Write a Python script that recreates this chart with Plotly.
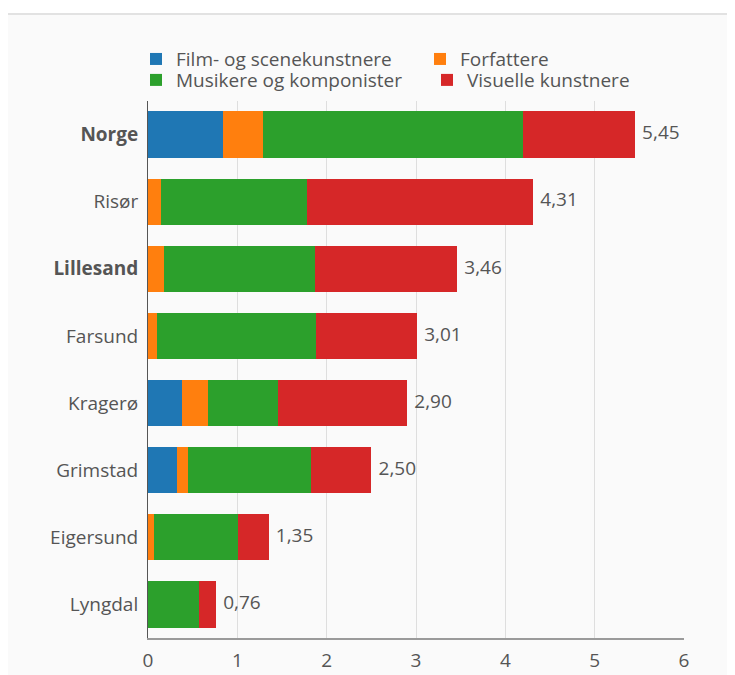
import plotly.graph_objects as go

categories = ["Norge", "Risør", "Lillesand", "Farsund", "Kragerø", "Grimstad", "Eigersund", "Lyngdal"]
film = [0.84, 0.00, 0.00, 0.00, 0.38, 0.33, 0.00, 0.00]
forfattere = [0.45, 0.15, 0.18, 0.10, 0.29, 0.12, 0.07, 0.00]
musikere = [2.91, 1.63, 1.69, 1.78, 0.78, 1.38, 0.94, 0.57]
visuelle = [1.25, 2.53, 1.59, 1.13, 1.45, 0.67, 0.34, 0.19]
totals = [5.45, 4.31, 3.46, 3.01, 2.90, 2.50, 1.35, 0.76]
bold_labels = ["Norge", "Lillesand"]
x_ticks = [0, 1, 2, 3, 4, 5, 6]

series = [
    ("Film- og scenekunstnere", film, "#1f77b4", "legend"),
    ("Forfattere", forfattere, "#ff7f0e", "legend2"),
    ("Musikere og komponister", musikere, "#2ca02c", "legend3"),
    ("Visuelle kunstnere", visuelle, "#d62728", "legend4"),
]

FONT = "Open Sans"
GREY = "#555555"
FS = 19

fig = go.Figure()
for name, vals, color, lg in series:
    fig.add_trace(go.Bar(
        y=categories, x=vals, name=name, orientation="h",
        marker=dict(color=color, line=dict(width=0)),
        hoverinfo="x+name", legend=lg,
    ))

fig.add_trace(go.Scatter(
    y=categories, x=totals, mode="markers+text",
    marker=dict(size=10, opacity=0),
    text=[f"{v:.2f}".replace(".", ",") for v in totals],
    textposition="middle right",
    textfont=dict(family=FONT, size=FS, color=GREY),
    showlegend=False, hoverinfo="skip", cliponaxis=False,
))

ticktext = [f"<b>{c}</b>" if c in bold_labels else c for c in categories]

def legend_box(x, y):
    return dict(
        orientation="h", x=x, xanchor="left", y=y, yanchor="middle",
        font=dict(family=FONT, size=FS, color=GREY),
        bgcolor="rgba(0,0,0,0)", itemclick=False, itemdoubleclick=False,
    )

fig.update_layout(
    width=735, height=675,
    barmode="stack",
    bargap=0.31,
    paper_bgcolor="#fafafa",
    plot_bgcolor="rgba(0,0,0,0)",
    margin=dict(l=140, r=59, t=93, b=45, autoexpand=False),
    font=dict(family=FONT, size=FS, color=GREY),
    legend=legend_box(-0.0224, 1.078),
    legend2=legend_box(0.5075, 1.078),
    legend3=legend_box(-0.0224, 1.039),
    legend4=legend_box(0.5205, 1.039),
    xaxis=dict(
        range=[0, 6], tickvals=x_ticks, ticktext=[str(t) for t in x_ticks],
        showgrid=True, gridcolor="#dedede", gridwidth=1,
        showline=True, linecolor="#9a9a9a", linewidth=2,
        zeroline=False, ticks="outside", ticklen=4, tickcolor="rgba(0,0,0,0)",
        tickfont=dict(family=FONT, size=FS, color=GREY),
        fixedrange=True,
    ),
    yaxis=dict(
        categoryorder="array", categoryarray=categories, autorange="reversed",
        tickvals=categories, ticktext=ticktext,
        showline=True, linecolor="#555555", linewidth=1,
        ticks="outside", ticklen=5, tickcolor="rgba(0,0,0,0)",
        tickfont=dict(family=FONT, size=FS, color=GREY),
        showgrid=False, fixedrange=True,
    ),
    shapes=[
        dict(type="rect", xref="paper", yref="paper", x0=-0.3, x1=1.2, y0=1.164, y1=1.2,
             fillcolor="white", line=dict(width=0), layer="below"),
        dict(type="line", xref="paper", yref="paper", x0=-0.3, x1=1.2, y0=1.162, y1=1.162,
             line=dict(color="#e2e2e2", width=2), layer="below"),
    ],
)

fig.write_html("out.html")
